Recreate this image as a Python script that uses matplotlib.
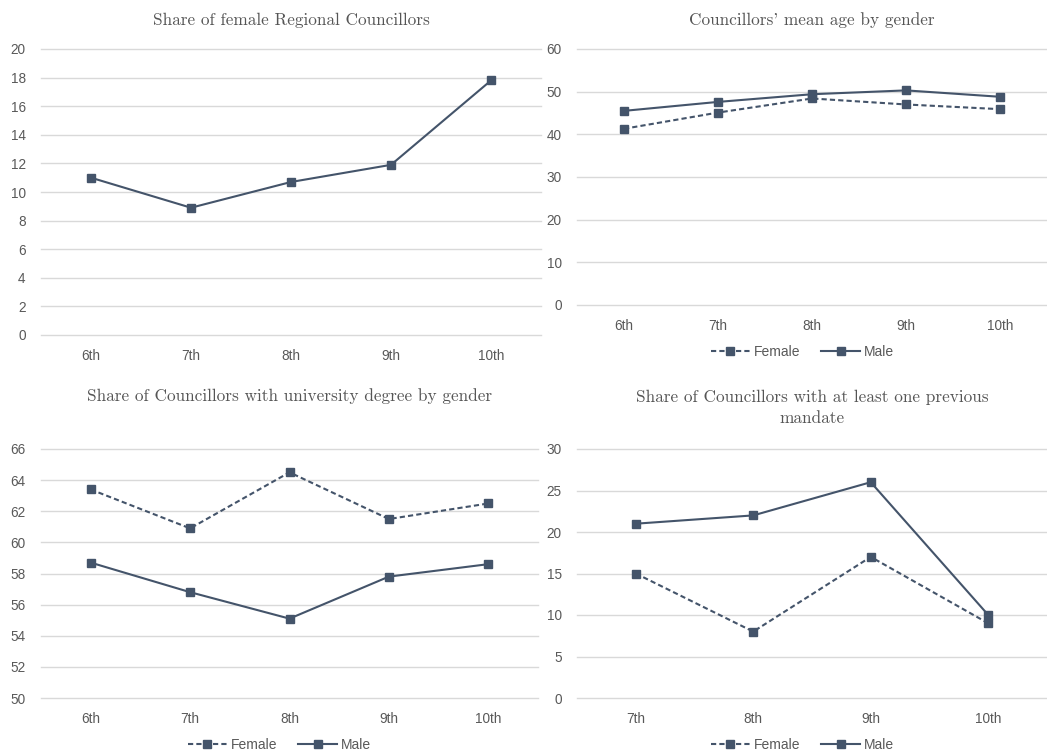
import matplotlib
matplotlib.use("Agg")
import matplotlib.pyplot as plt
from matplotlib.lines import Line2D

# ---- data ----
terms_a = ["6th", "7th", "8th", "9th", "10th"]
female_share = [11.0, 8.9, 10.7, 11.9, 17.8]

age_female = [41.3, 45.1, 48.4, 47.0, 45.9]
age_male = [45.5, 47.6, 49.4, 50.3, 48.8]

degree_female = [63.4, 60.9, 64.5, 61.5, 62.5]
degree_male = [58.7, 56.8, 55.1, 57.8, 58.6]

terms_b = ["7th", "8th", "9th", "10th"]
prev_female = [15, 8, 17, 9]
prev_male = [21, 22, 26, 10]

titles = [
    "Share of female Regional Councillors",
    "Councillors' mean age by gender",
    "Share of Councillors with university degree by gender",
    "Share of Councillors with at least one previous\nmandate",
]

# ---- style ----
W, H = 1047, 752
LINE = "#44546A"
GRID = "#D9D9D9"
TXT = "#595959"
TITLE_C = "#555555"
SANS = ["Liberation Sans", "DejaVu Sans"]
SERIF = ["cmr10", "DejaVu Serif"]
plt.rcParams["axes.formatter.use_mathtext"] = True

fig = plt.figure(figsize=(W / 100, H / 100), dpi=100)
fig.patch.set_facecolor("white")


def mk_axes(l, r, t, b):
    return fig.add_axes([l / W, 1 - b / H, (r - l) / W, (b - t) / H])


def style(ax, cats, yticks):
    ax.set_xlim(-0.5, len(cats) - 0.5)
    ax.set_ylim(yticks[0], yticks[-1])
    ax.set_yticks(yticks)
    ax.set_yticklabels([str(v) for v in yticks], family=SANS, fontsize=9.8, color=TXT)
    ax.set_xticks(range(len(cats)))
    ax.set_xticklabels(cats, family=SANS, fontsize=9.8, color=TXT)
    for s in ax.spines.values():
        s.set_visible(False)
    ax.tick_params(axis="both", length=0)
    ax.tick_params(axis="y", pad=11)
    ax.tick_params(axis="x", pad=10)
    ax.grid(axis="y", color=GRID, lw=1.0)
    for gl in ax.get_ygridlines():
        gl.set_clip_on(False)
    ax.set_axisbelow(True)


def plot_line(ax, cats, vals, dashed=False):
    kw = dict(color=LINE, lw=1.5, marker="s", markersize=6, markerfacecolor=LINE,
              markeredgecolor=LINE, clip_on=False, zorder=3)
    if dashed:
        kw["linestyle"] = (0, (2.5, 1.5))
    ax.plot(range(len(cats)), vals, **kw)


def legend(ax, y):
    h = [
        Line2D([], [], color=LINE, lw=1.5, linestyle=(0, (2.5, 1.5)), marker="s", markersize=6),
        Line2D([], [], color=LINE, lw=1.5, marker="s", markersize=6),
    ]
    leg = ax.legend(h, ["Female", "Male"], loc="center", bbox_to_anchor=(0.48, y),
                    ncol=2, frameon=False, handlelength=2.8, columnspacing=1.5,
                    handletextpad=0.3, prop={"family": SANS, "size": 10})
    for t in leg.get_texts():
        t.set_color(TXT)


def title(ax, text, y_px):
    fig.text((ax.get_position().x0 + ax.get_position().x1) / 2, 1 - y_px / H, text,
             ha="center", va="center", family=SERIF, fontsize=12.4, color=TITLE_C,
             linespacing=1.45)


# Panel 1
ax1 = mk_axes(41, 541, 49, 335)
style(ax1, terms_a, list(range(0, 21, 2)))
plot_line(ax1, terms_a, female_share)
title(ax1, titles[0], 20)

# Panel 2
ax2 = mk_axes(577, 1047, 49, 305)
style(ax2, terms_a, list(range(0, 61, 10)))
plot_line(ax2, terms_a, age_female, dashed=True)
plot_line(ax2, terms_a, age_male)
title(ax2, titles[1], 20)
legend(ax2, -(352 - 305) / (305 - 49))

# Panel 3
ax3 = mk_axes(41, 538, 449, 698)
style(ax3, terms_a, list(range(50, 67, 2)))
plot_line(ax3, terms_a, degree_female, dashed=True)
plot_line(ax3, terms_a, degree_male)
title(ax3, titles[2], 396)
legend(ax3, -(745 - 698) / (698 - 449))

# Panel 4
ax4 = mk_axes(577, 1047, 449, 698)
style(ax4, terms_b, list(range(0, 31, 5)))
plot_line(ax4, terms_b, prev_female, dashed=True)
plot_line(ax4, terms_b, prev_male)
title(ax4, titles[3], 408)
legend(ax4, -(745 - 698) / (698 - 449))

fig.savefig("out.png", dpi=100, facecolor="white")
